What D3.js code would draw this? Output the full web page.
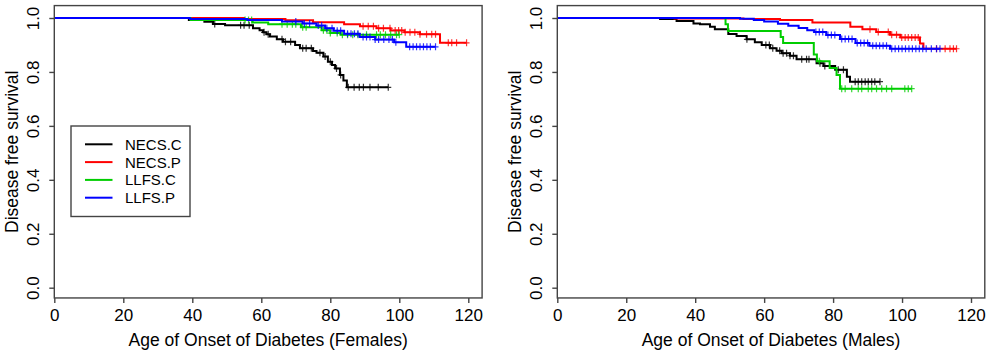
<!DOCTYPE html>
<html>
<head>
<meta charset="utf-8">
<script src="https://cdn.jsdelivr.net/npm/d3@7/dist/d3.min.js"></script>
<style>
  body { margin: 0; background: #fff; }
  svg text { font-family: Arial, "Liberation Sans", sans-serif; fill: #000; }
</style>
</head>
<body>
<div id="container"></div>
<script>
const WIDTH = 992;
const HEIGHT = 355;

// tick labels
const X_TICKS = [0, 20, 40, 60, 80, 100, 120];
const Y_TICKS = [0, 0.2, 0.4, 0.6, 0.8, 1.0];

const GROUPS = ['NECS.C', 'NECS.P', 'LLFS.C', 'LLFS.P'];
const COLORS = ['#000000', '#ff0000', '#00cd00', '#0000ff'];

// Females: [age, survival after event]
const fNecsC = [[39, 0.993], [43.5, 0.986], [46, 0.978], [49.5, 0.973], [57.6, 0.962], [59.5, 0.955],
                [60.5, 0.947], [61.5, 0.94], [62.5, 0.931], [64.5, 0.921], [66.3, 0.912], [69.8, 0.9],
                [71.2, 0.888], [75, 0.878], [76, 0.871], [78, 0.857], [79.3, 0.838], [80.5, 0.826],
                [81.4, 0.813], [82.8, 0.789], [83.8, 0.768], [84.8, 0.743]];
const fNecsCCens = [46.5, 54, 55, 56.5, 60.8, 62, 66, 67, 68.5, 72, 73, 74.5, 77, 78.5, 80, 81.8, 83,
                    85.2, 86.9, 88.4, 89.6, 91.5, 93.9, 96.8];
const fNecsP = [[55, 0.996], [67, 0.992], [75, 0.984], [84, 0.977], [88.6, 0.969], [93.4, 0.962],
                [97.5, 0.954], [101.5, 0.947], [106, 0.94], [111.8, 0.908]];
const fNecsPCens = [89.5, 91, 92.5, 94, 95.4, 97.3, 98.8, 99.8, 100.7, 101.7, 103.1, 104.5, 106, 107.9,
                    109.4, 110.5, 114.2, 115.2, 116.6, 119.5];
const fLlfsC = [[39.5, 0.993], [57.5, 0.983], [62, 0.977], [71.5, 0.966], [77.5, 0.955], [80, 0.944],
                [83, 0.938]];
const fLlfsCCens = [55.3, 56.3, 57.2, 66, 67.5, 69, 70, 72, 73, 78, 79, 80, 82, 83.5, 85, 86.5, 88, 90.5,
                    93.4, 94.5, 96, 97.5, 99.2, 100];
const fLlfsP = [[39.3, 0.996], [56, 0.993], [66, 0.987], [72, 0.98], [76, 0.972], [78.5, 0.962],
                [81, 0.953], [84, 0.942], [88.5, 0.93], [93, 0.92], [98.5, 0.91], [102, 0.893]];
const fLlfsPCens = [70, 72.5, 74, 76.5, 77.5, 79, 80.5, 82, 83, 85, 86, 87, 88, 89.5, 90.5, 91.5, 93, 94,
                    95.5, 97, 98, 99, 103, 104, 105, 106, 107, 108, 109, 110.5];

// Males
const mNecsC = [[29.8, 0.996], [34.6, 0.989], [39.5, 0.98], [41.4, 0.977], [44.3, 0.968], [45.7, 0.958],
                [49.6, 0.941], [52, 0.933], [54.9, 0.921], [57.3, 0.91], [59.3, 0.9], [61.7, 0.888],
                [63.6, 0.879], [65.1, 0.869], [67.5, 0.86], [69.4, 0.847], [75.2, 0.832], [77.2, 0.822],
                [80.6, 0.808], [84, 0.782], [84.9, 0.764]];
const mNecsCCens = [55, 60.5, 61.5, 62.5, 64.5, 65.5, 66.5, 67.5, 68.5, 70.9, 72.3, 73, 76.2, 77.6, 81.5,
                    83, 86.4, 87.3, 88.3, 89.3, 90.2, 91.2, 92.1, 93.6];
const mNecsP = [[34, 0.998], [54, 0.996], [64.6, 0.993], [74, 0.983], [85, 0.968], [88.5, 0.958],
                [92.5, 0.948], [96.5, 0.938], [99.5, 0.928], [105.2, 0.905], [106.2, 0.886]];
const mNecsPCens = [90.7, 93.1, 96, 97, 98.4, 99.9, 100.9, 101.8, 102.8, 103.8, 104.7, 110, 112.5, 113.9,
                    114.9, 115.8];
const mLlfsC = [[48.8, 0.977], [49.5, 0.952], [64.8, 0.93], [65.5, 0.907], [74.4, 0.865], [75.3, 0.84],
                [79, 0.815], [81, 0.789], [82, 0.738]];
const mLlfsCCens = [76, 82.5, 83.5, 85.4, 87.3, 88.3, 90.2, 91.2, 92.6, 94.1, 95.5, 97, 100.8, 101.8, 102.8];
const mLlfsP = [[53, 0.997], [57, 0.993], [60, 0.987], [64, 0.979], [67, 0.971], [70, 0.963], [72.5, 0.955],
                [74.5, 0.948], [78, 0.937], [82, 0.922], [86.5, 0.907], [90.5, 0.897], [96.5, 0.886]];
const mLlfsPCens = [75, 76, 77, 78.5, 79.5, 80.5, 82.5, 83.5, 84.5, 85.5, 87, 88, 89, 90, 91.5, 92.5, 93.5,
                    94.5, 95.5, 97, 98, 99, 100, 101, 102, 103, 104, 105, 106, 107, 108.5, 110, 111];

const PANELS = [
    { left: 54.3, right: 468.3, label: 'Age of Onset of Diabetes (Females)', legend: true,
      curves: [[fNecsC, fNecsCCens], [fNecsP, fNecsPCens], [fLlfsC, fLlfsCCens], [fLlfsP, fLlfsPCens]] },
    { left: 557.3, right: 971, label: 'Age of Onset of Diabetes (Males)', legend: false,
      curves: [[mNecsC, mNecsCCens], [mNecsP, mNecsPCens], [mLlfsC, mLlfsCCens], [mLlfsP, mLlfsPCens]] }
];

const svg = d3.select('#container')
              .append('svg')
                .attr('width', WIDTH)
                .attr('height', HEIGHT);

const yscale = d3.scaleLinear().domain([0, 1]).range([287.7, 18]);

// survival value at a given age (step function)
const survAt = (steps, t) => {
    let s = 1;
    steps.forEach(d => { if (d[0] <= t) s = d[1]; });
    return s;
};

PANELS.forEach(p => {
    const xscale = d3.scaleLinear().domain([0, 120]).range([p.left, p.right]);
    const g = svg.append('g');

    const boxTop = yscale(1.046);
    const boxBottom = yscale(-0.038);

    // curves
    const line = d3.line()
                   .x(d => xscale(d[0]))
                   .y(d => yscale(d[1]))
                   .curve(d3.curveStepAfter);

    p.curves.forEach((c, i) => {
        const steps = c[0];
        const cens = c[1];
        const end = Math.max(d3.max(cens), d3.max(steps, d => d[0]));
        const pts = [[0, 1]].concat(steps).concat([[end, steps[steps.length - 1][1]]]);

        g.append('path')
           .attr('d', line(pts))
           .attr('fill', 'none')
           .attr('stroke', COLORS[i])
           .attr('stroke-width', 2);

        g.selectAll(null)
           .data(cens)
           .enter()
           .append('path')
             .attr('d', t => {
                 const x = xscale(t), y = yscale(survAt(steps, t));
                 return `M${x - 3},${y}h6M${x},${y - 3.5}v7`;
             })
             .attr('stroke', COLORS[i])
             .attr('stroke-opacity', 0.8)
             .attr('stroke-width', 1.2);
    });

    // box
    g.append('rect')
       .attr('x', p.left)
       .attr('y', boxTop)
       .attr('width', xscale(124) - p.left)
       .attr('height', boxBottom - boxTop)
       .attr('fill', 'none')
       .attr('stroke', '#444')
       .attr('stroke-width', 1.4);

    // axes
    const axisBottom = d3.axisBottom(xscale).tickValues(X_TICKS).tickSize(5).tickPadding(6);
    const axisLeft = d3.axisLeft(yscale).tickValues(Y_TICKS).tickSize(5).tickFormat(d3.format('.1f'));

    const xa = g.append('g')
                .attr('transform', `translate(0, ${boxBottom})`)
                .call(axisBottom);
    const ya = g.append('g')
                .attr('transform', `translate(${p.left}, 0)`)
                .call(axisLeft);

    [xa, ya].forEach(a => {
        a.select('.domain').remove();
        a.selectAll('line').attr('stroke', '#444').attr('stroke-width', 1.4);
        a.selectAll('text').style('font-size', '17px').attr('fill', '#000');
    });

    ya.selectAll('text')
        .attr('x', null)
        .attr('dy', '0.35em')
        .attr('text-anchor', 'middle')
        .attr('transform', 'translate(-21.5, 0) rotate(-90)');

    // axis titles
    g.append('text')
       .attr('x', (p.left + xscale(124)) / 2)
       .attr('y', 346)
       .attr('text-anchor', 'middle')
       .style('font-size', '17.5px')
       .text(p.label);

    g.append('text')
       .attr('transform', `translate(${p.left - 42.5}, ${(boxTop + boxBottom) / 2}) rotate(-90)`)
       .attr('dy', '0.35em')
       .attr('text-anchor', 'middle')
       .style('font-size', '17.5px')
       .text('Disease free survival');

    if (p.legend) {
        const lg = g.append('g');
        lg.append('rect')
            .attr('x', 71)
            .attr('y', 126)
            .attr('width', 119)
            .attr('height', 90.5)
            .attr('fill', '#fff')
            .attr('stroke', '#444')
            .attr('stroke-width', 1.4);

        GROUPS.forEach((name, i) => {
            const y = 144.3 + i * 17.8;
            lg.append('line')
                .attr('x1', 85).attr('x2', 112.5)
                .attr('y1', y).attr('y2', y)
                .attr('stroke', COLORS[i])
                .attr('stroke-width', 2);
            lg.append('text')
                .attr('x', 125)
                .attr('y', y)
                .attr('dy', '0.36em')
                .style('font-size', '15px')
                .text(name);
        });
    }
});
</script>
</body>
</html>
